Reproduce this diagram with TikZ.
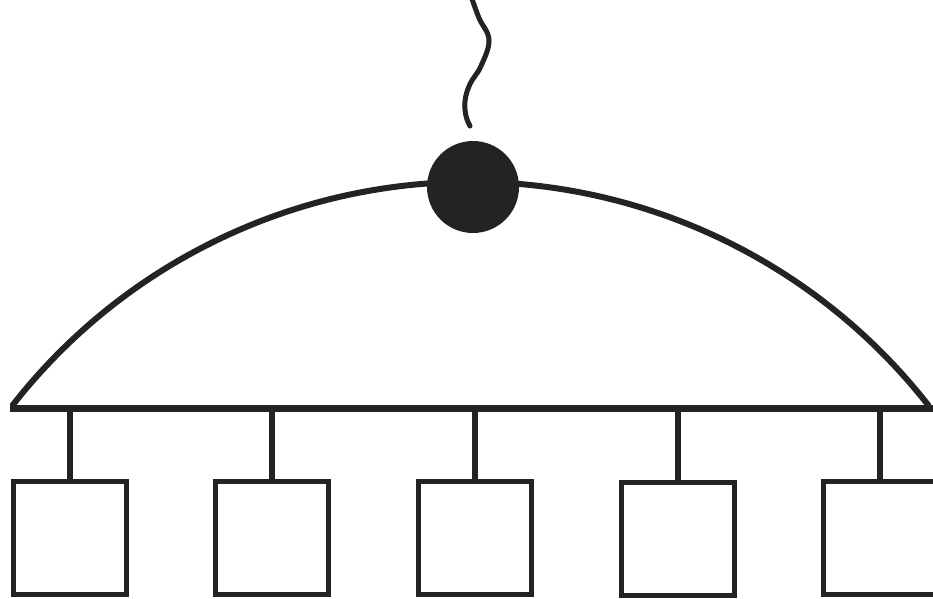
\documentclass[tikz,border=0pt]{standalone}
\definecolor{ink}{HTML}{232323}
\begin{document}
\begin{tikzpicture}[x=1pt,y=-1pt,
  ink lines/.style={draw=ink,line cap=butt},
  busline/.style={ink lines,line width=7pt},
  dome/.style={ink lines,line width=6pt},
  stem/.style={ink lines,line width=6pt},
  wire/.style={ink lines,line width=5pt,line cap=round},
  hubdot/.style={circle,fill=ink,draw=none,minimum size=92pt,inner sep=0pt,outer sep=0pt},
  station/.style={rectangle,draw=ink,line width=5pt,fill=white,minimum width=113pt,minimum height=113pt,inner sep=0pt,outer sep=0pt}]
  \clip (0,0) rectangle (933,598);
  \fill[white] (0,0) rectangle (933,598);

  % bus ends and dome
  \coordinate (busL) at (10,408);
  \coordinate (busR) at (933,408);
  \coordinate (domeL) at (12,406);
  \draw[dome] (domeL) arc[start angle=-142.1,end angle=-37.9,radius=581];
  \draw[busline] (busL) -- (busR);

  % central node on the dome
  \node[hubdot] (hub) at (473,187) {};

  % wavy lead above the central node
  \coordinate (leadtop) at (471,-4);
  \coordinate (leadend) at (470,126);
  \draw[wire] plot[smooth,tension=0.65] coordinates
    {(leadtop) (479,18) (489,40) (481,66) (470,84) (465,101) (466,116) (leadend)};

  % stations hanging from the bus
  \foreach \i/\x/\y in {1/69.5/537.5,2/272/537.5,3/474.5/537.5,4/677.5/538.5,5/880/537.5}{
    \coordinate (tap\i) at (\x,408);
    \node[station] (st\i) at (\x,\y) {};
    \draw[stem] (tap\i) -- (st\i.north);
  }
\end{tikzpicture}
\end{document}
